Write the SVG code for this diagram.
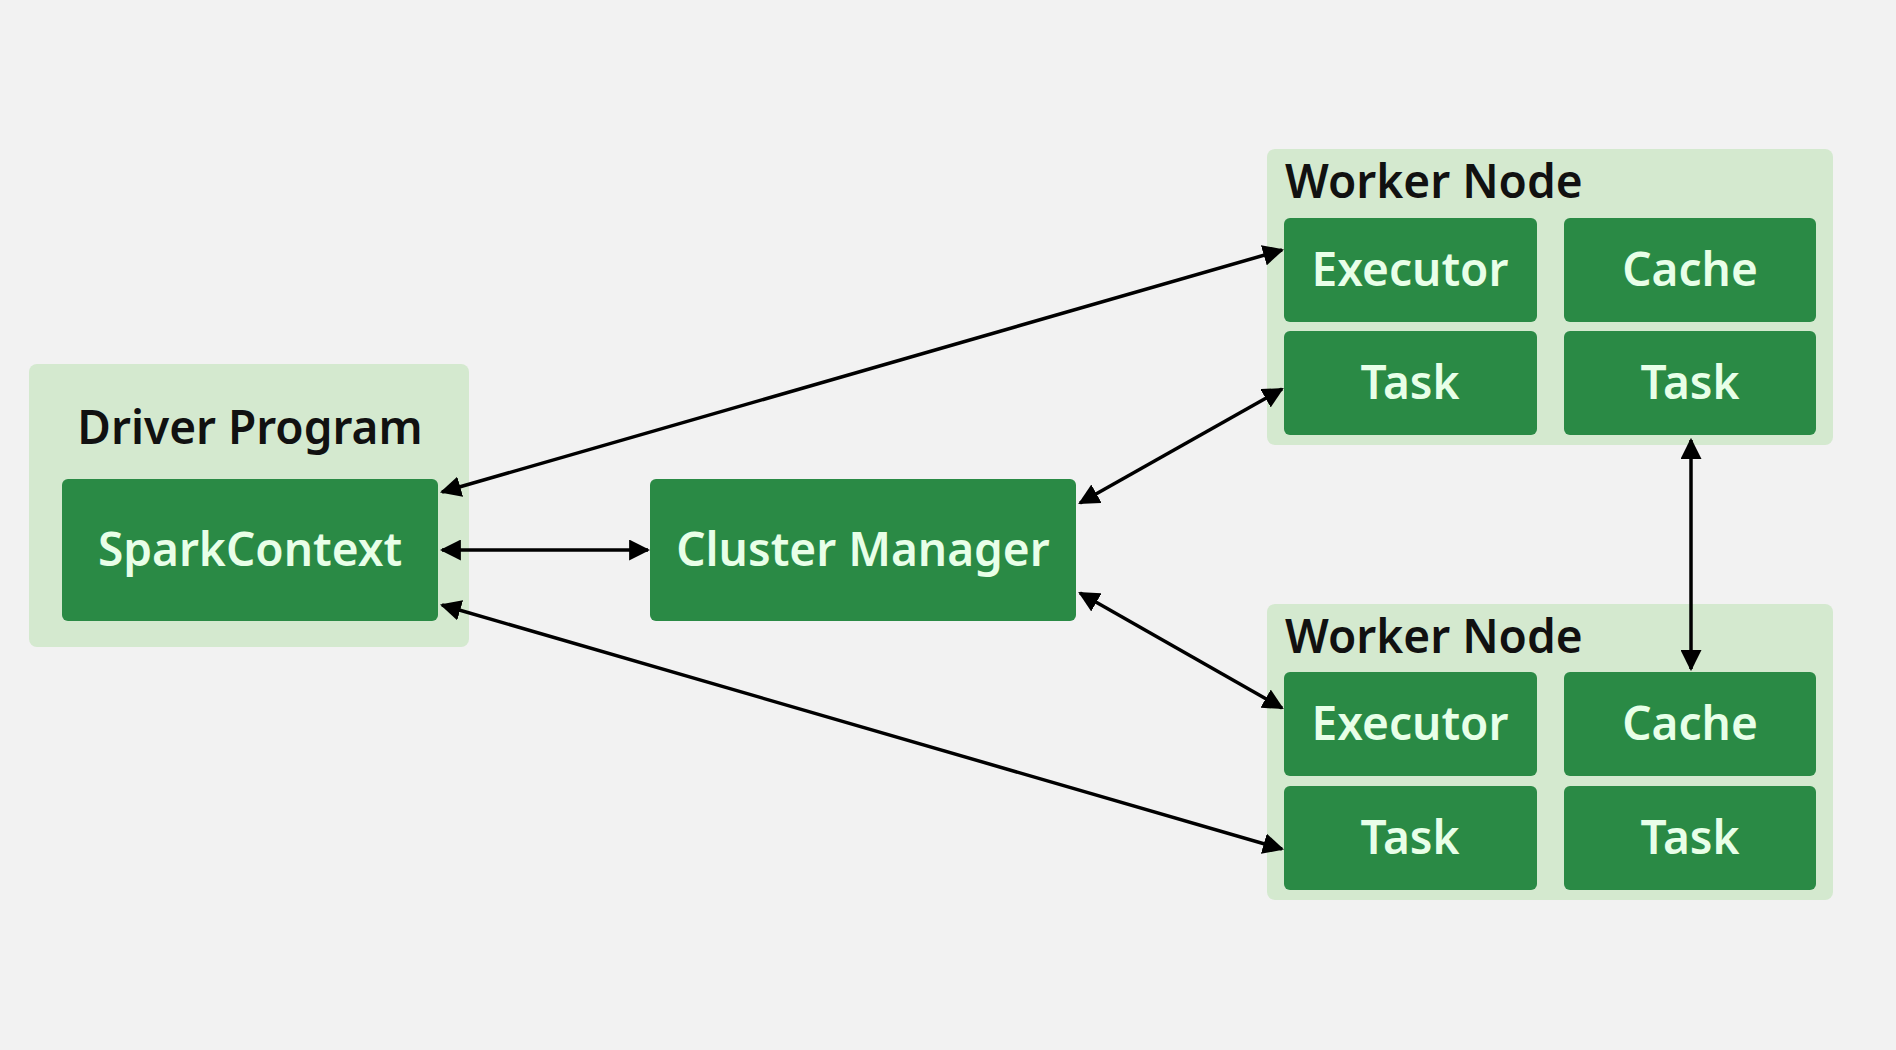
<svg xmlns="http://www.w3.org/2000/svg" width="1896" height="1050" viewBox="0 0 1896 1050">
<style>
.outer{fill:#d4e9cf}
.box{fill:#2a8a45}
.t{font-family:"Noto Sans","Open Sans",sans-serif;font-weight:600;font-size:46px;fill:#e8ffe8;text-anchor:middle}
.h{font-family:"Noto Sans","Open Sans",sans-serif;font-weight:600;font-size:46px;fill:#111}
.c line{stroke:#000;stroke-width:3.5;marker-start:url(#a);marker-end:url(#a)}
</style>
<defs><marker id="a" viewBox="0 0 10 10" refX="9" refY="5" markerWidth="6" markerHeight="6" orient="auto-start-reverse" markerUnits="strokeWidth"><path d="M0,0 L10,5 L0,10 z" fill="#000"/></marker></defs>
<rect width="1896" height="1050" fill="#f2f2f2"/>
<g id="driver">
<rect class="outer" x="29" y="364" width="440" height="283" rx="8"/>
<text class="h" x="250" y="444" text-anchor="middle">Driver Program</text>
<rect class="box" x="62" y="479" width="376" height="142" rx="6"/>
<text class="t" x="250" y="566">SparkContext</text>
</g>
<g id="cluster">
<rect class="box" x="650" y="479" width="426" height="142" rx="6"/>
<text class="t" x="863" y="566">Cluster Manager</text>
</g>
<g id="worker1">
<rect class="outer" x="1267" y="149" width="566" height="296" rx="8"/>
<text class="h" x="1285" y="198">Worker Node</text>
<rect class="box" x="1284" y="218" width="253" height="104" rx="6"/>
<text class="t" x="1410" y="286">Executor</text>
<rect class="box" x="1564" y="218" width="252" height="104" rx="6"/>
<text class="t" x="1690" y="286">Cache</text>
<rect class="box" x="1284" y="331" width="253" height="104" rx="6"/>
<text class="t" x="1410" y="399">Task</text>
<rect class="box" x="1564" y="331" width="252" height="104" rx="6"/>
<text class="t" x="1690" y="399">Task</text>
</g>
<g id="worker2">
<rect class="outer" x="1267" y="604" width="566" height="296" rx="8"/>
<text class="h" x="1285" y="653">Worker Node</text>
<rect class="box" x="1284" y="672" width="253" height="104" rx="6"/>
<text class="t" x="1410" y="740">Executor</text>
<rect class="box" x="1564" y="672" width="252" height="104" rx="6"/>
<text class="t" x="1690" y="740">Cache</text>
<rect class="box" x="1284" y="786" width="253" height="104" rx="6"/>
<text class="t" x="1410" y="854">Task</text>
<rect class="box" x="1564" y="786" width="252" height="104" rx="6"/>
<text class="t" x="1690" y="854">Task</text>
</g>
<g id="connectors" class="c">
<line x1="442" y1="492" x2="1282" y2="250"/>
<line x1="442" y1="550" x2="648" y2="550"/>
<line x1="442" y1="605" x2="1282" y2="849"/>
<line x1="1080" y1="503" x2="1282" y2="389"/>
<line x1="1080" y1="593" x2="1282" y2="708"/>
<line x1="1691" y1="440" x2="1691" y2="669"/>
</g>
</svg>
